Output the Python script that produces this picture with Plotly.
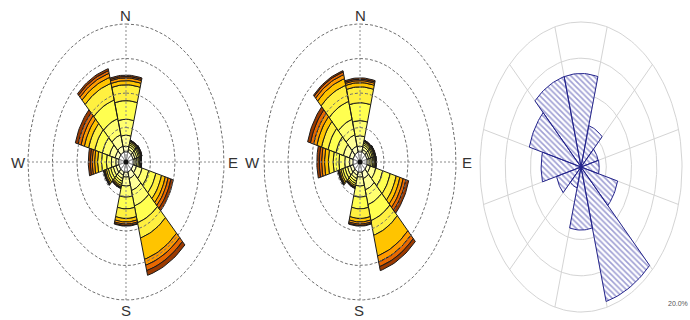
import numpy as np
import plotly.graph_objects as go

# ---- data -------------------------------------------------------------
directions = [0, 30, 60, 90, 120, 150, 180, 210, 240, 270, 300, 330]
sector_width = 30
compass_labels = ["N", "E", "S", "W"]

speed_colors = ["#FFFFFF", "#FFFFC0", "#FFFF99", "#FFFF70", "#FFFF50",
                "#FFF040", "#FFC400", "#FF9A00", "#E86800", "#9C3A00"]

# frequency (%) per speed class (rows) and direction (columns)
rose_a = [
    [1.5, 1.5, 1.5, 1.5, 1.5, 1.5, 1.5, 1.5, 1.5, 1.5, 1.5, 1.5],
    [0.8, 0.4, 0.4, 0.4, 0.7, 1.0, 0.7, 0.5, 0.6, 0.6, 0.8, 0.9],
    [1.6, 0.4, 0.4, 0.35, 1.2, 1.8, 1.3, 0.5, 0.6, 0.9, 1.2, 1.7],
    [2.3, 0.3, 0.35, 0.3, 1.4, 2.3, 1.6, 0.4, 0.55, 1.0, 1.5, 2.4],
    [2.7, 0.25, 0.25, 0.25, 1.5, 2.5, 1.7, 0.35, 0.5, 1.0, 1.6, 2.8],
    [2.3, 0.2, 0.2, 0.2, 1.2, 2.3, 1.4, 0.3, 0.4, 0.8, 1.3, 2.5],
    [0.6, 0.1, 0.12, 0.1, 0.8, 3.2, 0.5, 0.2, 0.3, 0.6, 0.9, 0.9],
    [0.4, 0.08, 0.1, 0.05, 0.6, 0.9, 0.3, 0.1, 0.15, 0.5, 0.7, 0.6],
    [0.2, 0.04, 0.05, 0.03, 0.6, 0.8, 0.2, 0.1, 0.1, 0.4, 0.6, 0.4],
    [0.2, 0.03, 0.03, 0.02, 0.5, 0.7, 0.1, 0.05, 0.1, 0.4, 0.6, 0.3],
]

rose_b = [
    [1.5, 1.5, 1.5, 1.5, 1.5, 1.5, 1.5, 1.5, 1.5, 1.5, 1.5, 1.5],
    [0.8, 0.4, 0.4, 0.45, 0.7, 1.0, 0.7, 0.5, 0.6, 0.7, 0.8, 0.9],
    [1.5, 0.4, 0.4, 0.4, 1.2, 1.7, 1.3, 0.5, 0.6, 1.0, 1.3, 1.7],
    [2.2, 0.3, 0.35, 0.35, 1.5, 2.2, 1.6, 0.4, 0.55, 1.2, 1.6, 2.3],
    [2.6, 0.25, 0.25, 0.25, 1.6, 2.4, 1.7, 0.35, 0.5, 1.2, 1.7, 2.7],
    [2.3, 0.2, 0.2, 0.2, 1.3, 2.2, 1.4, 0.3, 0.4, 1.0, 1.4, 2.4],
    [0.6, 0.1, 0.12, 0.12, 0.8, 3.1, 0.5, 0.2, 0.3, 0.8, 1.0, 1.0],
    [0.3, 0.08, 0.1, 0.08, 0.7, 0.9, 0.3, 0.1, 0.15, 0.6, 0.7, 0.6],
    [0.2, 0.04, 0.05, 0.03, 0.6, 0.7, 0.2, 0.1, 0.1, 0.5, 0.7, 0.4],
    [0.2, 0.03, 0.03, 0.02, 0.6, 0.6, 0.1, 0.05, 0.1, 0.5, 0.6, 0.2],
]

# total frequency (%) per direction for the hatched rose
freq_c = [12.9, 5.9, 3.5, 3.6, 7.5, 19.2, 8.7, 3.0, 5.0, 7.9, 10.6, 12.9]

rings = [5, 10, 15, 20]
ring_label = "20.0%"


# ---- geometry helpers (polar -> cartesian, north up, clockwise) ---------
def polar_xy(r, theta_deg):
    t = np.radians(theta_deg)
    return r * np.sin(t), r * np.cos(t)


def wedge(theta_c, r0, r1, width=sector_width, n=16):
    th = np.linspace(theta_c - width / 2, theta_c + width / 2, n)
    xo, yo = polar_xy(r1, th)
    xi, yi = polar_xy(r0, th[::-1])
    xs = list(xo) + list(xi) + [xo[0]]
    ys = list(yo) + list(yi) + [yo[0]]
    return xs, ys


def ring(r, n=181):
    th = np.linspace(0, 360, n)
    return polar_xy(r, th)


fig = go.Figure()


def add_stacked_rose(rows, xa, ya):
    base = np.zeros(len(directions))
    for k, row in enumerate(rows):
        xs, ys = [], []
        for j, d in enumerate(directions):
            wx, wy = wedge(d, base[j], base[j] + row[j])
            xs += wx + [None]
            ys += wy + [None]
        base = base + np.array(row)
        fig.add_trace(go.Scatter(
            x=xs, y=ys, xaxis=xa, yaxis=ya, mode="lines", fill="toself",
            fillcolor=speed_colors[k],
            line=dict(color="#909090" if k == 0 else "#1a1a1a", width=1),
            hoverinfo="skip", showlegend=False))
    # dashed rings and dotted compass axes on top of the bars
    for r in rings:
        rx, ry = ring(r)
        fig.add_trace(go.Scatter(
            x=rx, y=ry, xaxis=xa, yaxis=ya, mode="lines",
            line=dict(color="#6e6e6e", width=1, dash="3px,2px"),
            hoverinfo="skip", showlegend=False))
    fig.add_trace(go.Scatter(
        x=[-rings[-1], rings[-1], None, 0, 0],
        y=[0, 0, None, -rings[-1], rings[-1]],
        xaxis=xa, yaxis=ya, mode="lines",
        line=dict(color="#8a8a8a", width=1, dash="2px,2px"),
        hoverinfo="skip", showlegend=False))
    fig.add_trace(go.Scatter(
        x=[0], y=[0], xaxis=xa, yaxis=ya, mode="markers",
        marker=dict(color="#111111", size=5),
        hoverinfo="skip", showlegend=False))


add_stacked_rose(rose_a, "x", "y")
add_stacked_rose(rose_b, "x2", "y2")

# ---- hatched rose ------------------------------------------------------
for r in rings:
    rx, ry = ring(r)
    fig.add_trace(go.Scatter(
        x=rx, y=ry, xaxis="x3", yaxis="y3", mode="lines",
        line=dict(color="#d4d4d4", width=1), hoverinfo="skip", showlegend=False))
sx, sy = [], []
for d in directions:
    ex, ey = polar_xy(rings[-1], d + sector_width / 2)
    sx += [0, ex, None]
    sy += [0, ey, None]
fig.add_trace(go.Scatter(
    x=sx, y=sy, xaxis="x3", yaxis="y3", mode="lines",
    line=dict(color="#d4d4d4", width=1), hoverinfo="skip", showlegend=False))

hx, hy = [], []
for j, d in enumerate(directions):
    wx, wy = wedge(d, 0, freq_c[j])
    hx += wx + [None]
    hy += wy + [None]
fig.add_trace(go.Scatter(
    x=hx, y=hy, xaxis="x3", yaxis="y3", mode="lines", fill="toself",
    fillcolor="rgba(255,255,255,0)",
    fillpattern=dict(shape="\\", fgcolor="#4040a8", bgcolor="white",
                     size=4, solidity=0.4),
    line=dict(color="#24248c", width=1), hoverinfo="skip", showlegend=False))

# ---- axes layout -------------------------------------------------------
W, H = 690, 320


def frac(px):
    return px / W


hidden = dict(visible=False, showgrid=False, zeroline=False, fixedrange=True)
fig.update_layout(
    width=W, height=H, margin=dict(l=0, r=0, t=0, b=0),
    paper_bgcolor="white", plot_bgcolor="white",
    xaxis=dict(domain=[0, frac(244)], range=[-25.71, 24.08], anchor="y", **hidden),
    yaxis=dict(domain=[0, 1], range=[-22.90, 23.48], anchor="x", **hidden),
    xaxis2=dict(domain=[frac(244), frac(478)], range=[-24.17, 24.58], anchor="y2", **hidden),
    yaxis2=dict(domain=[0, 1], range=[-22.90, 23.48], anchor="x2", **hidden),
    xaxis3=dict(domain=[frac(478), 1], range=[-20.40, 21.58], anchor="y3", **hidden),
    yaxis3=dict(domain=[0, 1], range=[-21.10, 23.03], anchor="x3", **hidden),
)

label_font = dict(family="Liberation Sans, Arial, sans-serif", size=15, color="#333333")
compass_pos = {
    "x": {"N": (0, 21.3), "E": (21.8, 0), "S": (0, -21.5), "W": (-22.0, 0)},
    "x2": {"N": (0, 21.3), "E": (22.3, 0), "S": (-0.2, -21.5), "W": (-22.3, 0)},
}
annotations = []
for xa, ya in (("x", "y"), ("x2", "y2")):
    for lab in compass_labels:
        ax_, ay_ = compass_pos[xa][lab]
        annotations.append(dict(x=ax_, y=ay_, xref=xa, yref=ya, text=lab,
                                showarrow=False, font=label_font))
annotations.append(dict(x=1, y=0.035, xref="paper", yref="paper", text=ring_label,
                        xanchor="right", yanchor="bottom", showarrow=False,
                        font=dict(family="Liberation Sans, Arial, sans-serif",
                                  size=7, color="#555555")))
fig.update_layout(annotations=annotations)

fig.write_html("out.html")
